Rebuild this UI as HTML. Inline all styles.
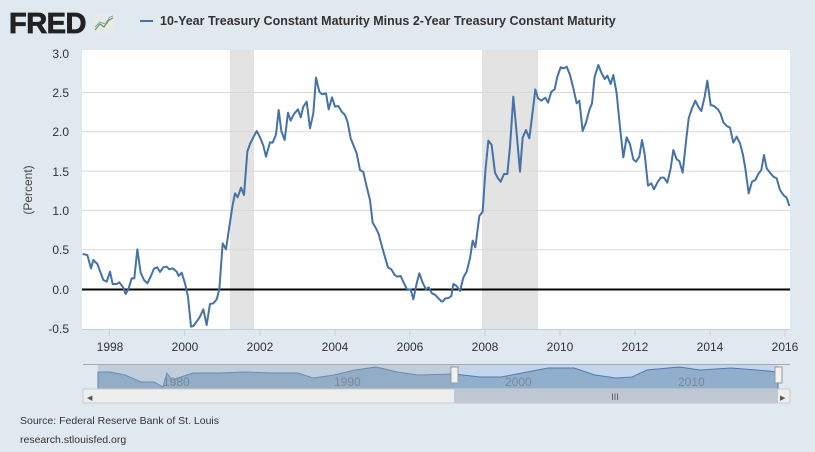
<!DOCTYPE html>
<html><head><meta charset="utf-8"><style>
html,body{margin:0;padding:0}
body{width:815px;height:452px;background:#e1e9f0;position:relative;overflow:hidden;font-family:"Liberation Sans",sans-serif}
</style></head><body>
<svg width="815" height="452" style="position:absolute;left:0;top:0">
<text x="9" y="33" font-family="Liberation Sans" font-weight="bold" font-size="29" fill="#222" letter-spacing="-0.5" stroke="#222" stroke-width="0.8">FRED</text>
<rect x="93" y="14" width="22" height="19" fill="#e8eaea" rx="2"/>
<polyline points="95,30 100,24 104,27 109,20 113,18" fill="none" stroke="#6a9a4a" stroke-width="1.2"/>
<polyline points="95,27 100,22 105,24 110,17 113,16" fill="none" stroke="#7fa6c8" stroke-width="1"/>
<line x1="140" y1="21" x2="153" y2="21" stroke="#4572a7" stroke-width="2"/>
<text x="160" y="25" font-size="12.5" font-weight="bold" fill="#333">10-Year Treasury Constant Maturity Minus 2-Year Treasury Constant Maturity</text>
<rect x="82" y="50" width="708" height="280" fill="#fff"/>
<rect x="230" y="50" width="24" height="280" fill="#e3e3e3"/>
<rect x="482" y="50" width="56" height="280" fill="#e3e3e3"/>
<g stroke="#d8d8d8" stroke-width="1">
<line x1="82" x2="790" y1="92.5" y2="92.5"/><line x1="82" x2="790" y1="131.8" y2="131.8"/>
<line x1="82" x2="790" y1="171.1" y2="171.1"/><line x1="82" x2="790" y1="210.4" y2="210.4"/>
<line x1="82" x2="790" y1="249.7" y2="249.7"/>
</g>
<line x1="82" x2="790" y1="329.5" y2="329.5" stroke="#c0d0e0"/>
<g stroke="#c0d0e0"><line x1="109.3" x2="109.3" y1="330" y2="336"/><line x1="184.7" x2="184.7" y1="330" y2="336"/><line x1="260" x2="260" y1="330" y2="336"/><line x1="335" x2="335" y1="330" y2="336"/><line x1="410" x2="410" y1="330" y2="336"/><line x1="485" x2="485" y1="330" y2="336"/><line x1="560" x2="560" y1="330" y2="336"/><line x1="635" x2="635" y1="330" y2="336"/><line x1="710" x2="710" y1="330" y2="336"/><line x1="785" x2="785" y1="330" y2="336"/></g>
<line x1="82" x2="790" y1="289.5" y2="289.5" stroke="#000" stroke-width="2"/>
<g fill="none" stroke="#4572a7" stroke-width="2" stroke-linejoin="round">
<polyline vector-effect="non-scaling-stroke" transform="translate(80,50) scale(0.33333)" points="8,612 22,615 33,655 40,630 52,642 70,690 80,695 90,665 98,702 110,702 118,697 128,710 137,732 145,718 155,685 163,685 172,598 182,668 192,690 202,700 212,680 222,656 232,652 240,666 250,652 260,650 268,658 278,655 290,665 296,678 305,668 315,700 324,740 333,830 340,828 350,815 360,800 370,778 380,825 390,762 400,760 410,748 418,718 428,580 438,598 448,530 458,465 465,430 473,442 483,413 492,435 502,305 510,282 520,262 530,243 540,262 550,287 558,320 570,277 578,278 588,254 596,180 604,243 614,270 624,188 632,212 642,192 654,178 662,202 670,170 680,155 690,235 700,190 708,83 718,125 726,133 738,130 746,178 756,142 765,170 775,168 785,185 795,195 803,217 812,265 822,290 830,310 840,360 850,366 860,410 870,450 878,518 888,535 896,552 906,590 916,625 924,652 934,658 944,675 952,680 962,678 972,700 982,720 992,718 1000,748 1010,700 1018,670 1028,698 1038,718 1046,712 1056,730 1066,735 1078,748 1083,751"/>
<polyline vector-effect="non-scaling-stroke" transform="translate(440,50) scale(0.33333)" points="0,752 8,755 16,745 26,744 34,738 40,702 50,708 60,723 70,683 80,665 90,625 98,572 106,592 118,498 128,485 136,365 145,272 155,285 165,368 174,385 182,395 192,372 202,372 210,290 220,140 230,250 240,365 248,263 258,240 268,265 278,185 286,118 294,145 304,152 316,143 324,158 334,125 344,118 352,80 362,52 372,55 380,50 390,75 400,115 410,160 418,152 428,243 438,218 448,180 456,160 464,80 475,45 485,70 494,87 502,77 512,102 520,75 530,130 540,232 550,322 560,262 570,283 580,328 588,335 598,320 606,270 614,312 624,407 634,400 642,418 652,398 662,383 672,383 682,398 692,355 700,300 710,328 718,333 728,368 738,275 746,205 756,175 766,152 776,172 784,183 794,140 802,92 812,165 822,168 834,178 842,192 850,217 860,228 870,233 880,278 890,260 900,280 908,310 916,355 926,430 936,395 946,390 956,370 964,360 972,315 980,355 990,368 1000,380 1010,385 1020,420 1030,435 1040,443 1048,468"/>
</g>
<g font-size="12" fill="#333" text-anchor="end">
<text x="69" y="58">3.0</text><text x="69" y="97">2.5</text><text x="69" y="136">2.0</text><text x="69" y="176">1.5</text><text x="69" y="215">1.0</text><text x="69" y="254">0.5</text><text x="69" y="294">0.0</text><text x="69" y="333">-0.5</text>
</g>
<text transform="translate(32,190) rotate(-90)" font-size="12" fill="#444" text-anchor="middle">(Percent)</text>
<g font-size="12" fill="#333" text-anchor="middle">
<text x="110" y="351">1998</text><text x="185" y="351">2000</text><text x="260" y="351">2002</text><text x="335" y="351">2004</text><text x="410" y="351">2006</text><text x="485" y="351">2008</text><text x="560" y="351">2010</text><text x="635" y="351">2012</text><text x="710" y="351">2014</text><text x="785" y="351">2016</text>
</g>
<line x1="83" x2="790" y1="364.5" y2="364.5" stroke="#a8a8b0"/>
<rect x="454" y="365" width="324" height="24" fill="#c3d6ec"/>
<path d="M98,389 L98,372 L110,372 L125,375 L141,382 L154,382 L163,387 L167,373 L172,380 L193,373 L219,373 L245,372 L272,373 L298,373 L313,378 L334,375 L355,370 L376,367 L397,372 L418,375 L454,374 L480,377 L501,377 L522,373 L548,368 L574,368 L595,375 L616,378 L632,377 L647,370 L679,367 L700,370 L731,368 L757,370 L778,372 L778,389 Z" fill="#88a8c8" fill-opacity="0.85" stroke="#4f7cae" stroke-width="1"/>
<rect x="98" y="365" width="356" height="24" fill="#8fa6bf" fill-opacity="0.4"/>
<g font-size="12" fill="#7a8a9a"><text x="163" y="386">1980</text><text x="334" y="386">1990</text><text x="505" y="386">2000</text><text x="678" y="386">2010</text></g>
<rect x="451" y="367" width="7" height="16" fill="#f2f2f2" stroke="#999"/>
<rect x="775" y="367" width="7" height="16" fill="#f2f2f2" stroke="#999"/>
<rect x="83" y="389" width="707" height="14" fill="#eeeeee" stroke="#ccc"/>
<rect x="454" y="389" width="324" height="14" fill="#bfc8d2"/>
<text x="615" y="400" font-size="9" fill="#555" text-anchor="middle">III</text>
<text x="87" y="400" font-size="7" fill="#555">◀</text>
<text x="780" y="400" font-size="7" fill="#555">▶</text>
<text x="20" y="424" font-size="10.5" fill="#333">Source: Federal Reserve Bank of St. Louis</text>
<text x="20" y="443" font-size="10.5" fill="#333">research.stlouisfed.org</text>
</svg>
</body></html>
